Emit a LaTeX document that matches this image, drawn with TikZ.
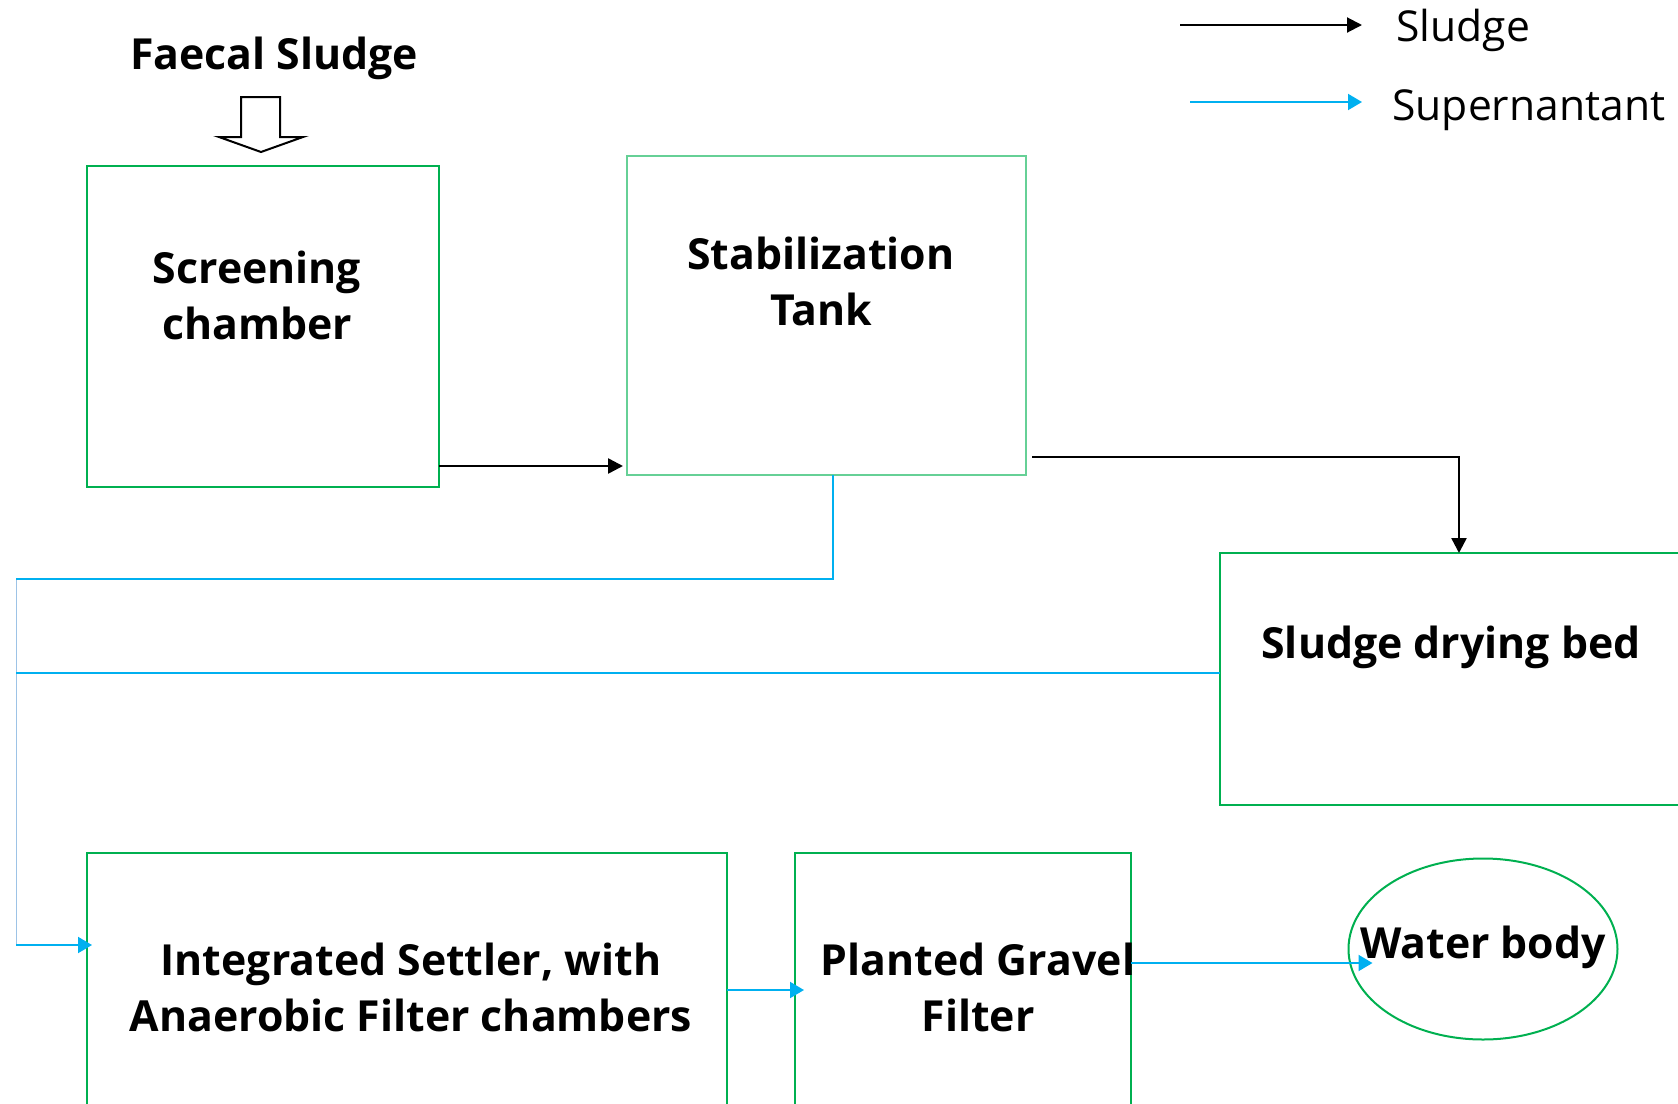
\documentclass[tikz,border=0pt]{standalone}
\usepackage{fontspec}
\setmainfont{Open Sans}
\usetikzlibrary{arrows.meta, shapes.geometric}
\definecolor{boxgreen}{RGB}{0,176,80}
\definecolor{superblue}{RGB}{0,176,240}
\definecolor{paleblue}{RGB}{157,195,230}
\begin{document}
\begin{tikzpicture}[x=0.5pt, y=-0.5pt,
            box/.style={draw=boxgreen, line width=1pt, inner sep=0pt, outer sep=0pt, anchor=north west},
            lbl/.style={align=center, font=\fontsize{21.4}{28}\selectfont\bfseries},
            legtext/.style={anchor=base west, inner sep=0pt, font=\fontsize{21.3}{27}\selectfont},
            sludge/.style={black, line width=1.25pt, -{Triangle[length=7.5pt,width=7.5pt]}},
            super/.style={superblue, line width=1pt, -{Triangle[length=7pt,width=8pt]}}]
            %\draw[lightgray] (0, 0) grid[step=100] (1678, 1104);
            \useasboundingbox (0, 0) rectangle (1678, 1104);
            \clip (0, 0) rectangle (1678, 1104);
            \node[box, minimum width=176pt, minimum height=160.5pt] (screen) at (87, 166) {};
            \node[box, draw=boxgreen!60, line width=0.6pt, minimum width=199.5pt, minimum height=159.5pt] (stab) at (627, 156) {};
            \node[box, minimum width=239pt, minimum height=126pt] (bed) at (1220, 553) {};
            \node[box, minimum width=320pt, minimum height=150pt] (settler) at (87, 853) {};
            \node[box, minimum width=168pt, minimum height=150pt] (planted) at (795, 853) {};
            \node[draw=boxgreen, line width=1pt, ellipse, inner sep=0pt, minimum width=134.5pt, minimum height=90.5pt] (water) at (1483, 949) {};
            \node[lbl] (feed) at (274, 58) {Faecal Sludge};
            \node[lbl] (screen-txt) at (257, 295) {Screening\\chamber};
            \node[lbl] (stab-txt) at (821, 281) {Stabilization\\Tank};
            \node[lbl] (bed-txt) at (1451, 647) {Sludge drying bed};
            \node[lbl] (settler-txt) at (411, 987) {Integrated Settler, with\\Anaerobic Filter chambers};
            \node[lbl] (planted-txt) at (978, 987) {Planted Gravel\\Filter};
            \node[lbl] (water-txt) at (1483, 947) {Water body};
            % inlet arrow
            \draw[line width=1pt, line join=miter] (241, 97) -- (280, 97) -- (280, 137) -- (303, 137)
                -- (261, 152) -- (219, 137) -- (241, 137) -- cycle;
            % sludge line
            \draw[sludge, shorten >=2pt] (screen.east |- 0, 466) -- (stab.west |- 0, 466);
            \draw[sludge, shorten <=3pt] (stab.east |- 0, 457) -| (bed.north);
            % supernatant lines
            \coordinate (jn-top) at (16, 579);
            \coordinate (jn-mid) at (16, 673);
            \coordinate (jn-bot) at (16, 945);
            \draw[paleblue, line width=0.5pt] (jn-top) -- (jn-bot);
            \draw[superblue, line width=1pt] (833, 0 |- stab.south) |- (jn-top);
            \draw[superblue, line width=1pt] (bed.west |- jn-mid) -- (jn-mid);
            \draw[super, shorten >=-2.5pt] (jn-bot) -- (settler.west |- jn-bot);
            \draw[super, shorten >=-4.5pt] (settler.east |- 0, 990) -- (planted.west |- 0, 990);
            \draw[super, shorten >=-12.5pt] (planted.east |- 0, 963) -- (water.west |- 0, 963);
            % legend
            \node[legtext] (leg-sludge) at (1396, 41) {Sludge};
            \node[legtext] (leg-super) at (1392, 120) {Supernantant};
            \coordinate (leg-s0) at (1180, 25);
            \coordinate (leg-b0) at (1190, 102);
            \draw[sludge, line width=1pt, shorten >=17pt] (leg-s0) -- (leg-s0 -| leg-sludge.west);
            \draw[super, shorten >=15pt] (leg-b0) -- (leg-b0 -| leg-super.west);
        \end{tikzpicture}
\end{document}
